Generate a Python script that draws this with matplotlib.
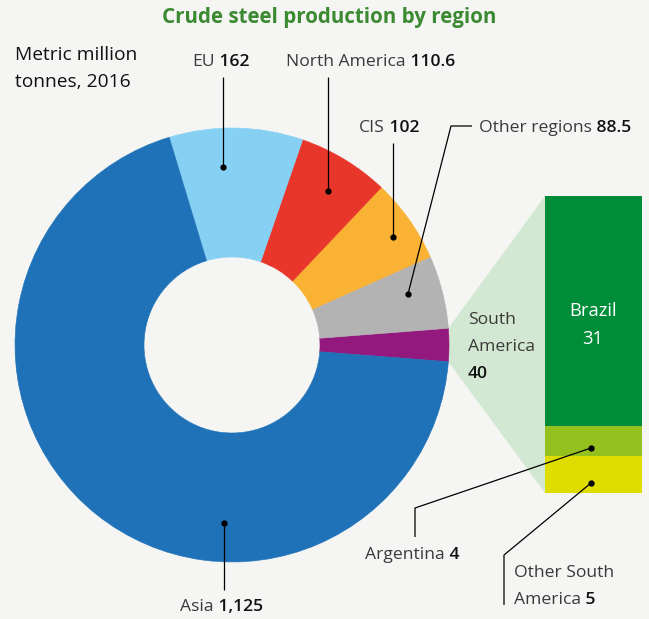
import numpy as np
import matplotlib
matplotlib.use("Agg")
import matplotlib.pyplot as plt
from matplotlib.patches import Polygon

# data (metric million tonnes, 2016)
regions = ["South America", "Other regions", "CIS", "North America", "EU", "Asia"]
production = [40, 88.5, 102, 110.6, 162, 1125]
region_colors = ["#93197f", "#b3b3b3", "#f9b233", "#e8362b", "#86d0f4", "#1f72b8"]

sa_countries = ["Other South America", "Argentina", "Brazil"]
sa_production = [5, 4, 31]
sa_colors = ["#dedc00", "#95c11f", "#008d39"]

W, H = 649, 619
BG = "#f5f5f3"
TXT = "#3a3a3a"
FONT = "Open Sans"
FS = 12.6


def Y(y):
    # image pixel row -> data y
    return H - y


fig = plt.figure(figsize=(W / 100, H / 100), dpi=100, facecolor=BG)

# stacked bar for South America (drawn under the main axes)
axb = fig.add_axes([545 / W, (H - 493) / H, 97 / W, 297 / H])
axb.set_xlim(-0.5, 0.5)
axb.set_ylim(0, sum(sa_production))
axb.axis("off")
bottoms = np.concatenate([[0], np.cumsum(sa_production)[:-1]])
axb.bar(0, sa_production, width=1, bottom=bottoms, color=sa_colors, linewidth=0)

ax = fig.add_axes([0, 0, 1, 1])
ax.patch.set_visible(False)
axb.set_zorder(0)
ax.set_zorder(1)

cx, cy, r_out, r_in = 232, Y(345), 217, 88
total = sum(production)
wedges, _ = ax.pie(production, colors=region_colors, radius=r_out, center=(cx, cy),
                   startangle=-180 * production[0] / total, counterclock=True,
                   wedgeprops=dict(width=r_out - r_in, linewidth=0.4, edgecolor="none"))
for w, c in zip(wedges, region_colors):
    w.set_edgecolor(c)
ax.set_xlim(0, W)
ax.set_ylim(0, H)
ax.set_aspect("auto")
ax.axis("off")

# connector between the South America slice and the bar
sa = wedges[0]
t1, t2 = np.radians(sa.theta1), np.radians(sa.theta2)
to_main = ax.transData.inverted()
bar_top, bar_bot = to_main.transform(axb.transData.transform([(-0.5, sum(sa_production)), (-0.5, 0)]))
poly = Polygon([(cx + r_out * np.cos(t2), cy + r_out * np.sin(t2)), bar_top, bar_bot,
                (cx + r_out * np.cos(t1), cy + r_out * np.sin(t1))],
               closed=True, facecolor="#d3e8d2", edgecolor="none", zorder=0)
ax.add_patch(poly)


def label(x, y, name, num, ha="left"):
    t = ax.text(x, Y(y), name, fontsize=FS, color=TXT, family=FONT, va="center", ha=ha)
    ax.annotate(num, xy=(1, 0), xycoords=t, fontsize=FS, color="#111111", family=FONT,
                fontweight="semibold", va="bottom", ha="left")
    return t


def leader(pts):
    xs = [p[0] for p in pts]
    ys = [Y(p[1]) for p in pts]
    ax.plot(xs, ys, color="black", lw=0.9, solid_capstyle="butt")
    ax.plot(xs[-1], ys[-1], "o", color="black", ms=3.5)


ax.text(329, Y(18), "Crude steel production by region", fontsize=14.8, fontweight="bold",
        color="#3b8a31", family=FONT, ha="center", va="center")
ax.text(15, Y(55), "Metric million", fontsize=13.8, color="#111111", family=FONT,
        fontweight="medium", ha="left", va="center")
ax.text(15, Y(82), "tonnes, 2016", fontsize=13.8, color="#111111", family=FONT,
        fontweight="medium", ha="left", va="center")

label(192, 62, "EU", " 162")
leader([(223, 77), (223, 167)])
label(286, 62, "North America", " 110.6")
leader([(328, 77), (328, 191)])
label(359, 128, "CIS", " 102")
leader([(393, 143), (393, 237)])
label(479, 128, "Other regions", " 88.5")
leader([(472, 126), (451, 126), (408, 294)])
label(180, 607, "Asia", " 1,125")
leader([(224, 590), (224, 523)])

ax.text(468, Y(320), "South", fontsize=FS, color=TXT, family=FONT, va="center")
ax.text(468, Y(347), "America", fontsize=FS, color=TXT, family=FONT, va="center")
ax.text(468, Y(374), "40", fontsize=FS, color="#111111", family=FONT, va="center",
        fontweight="semibold")

ax.text(593, Y(311), "Brazil", fontsize=13.2, color="white", family=FONT, ha="center", va="center")
ax.text(593, Y(339), "31", fontsize=13.2, color="white", family=FONT, ha="center", va="center")

label(365, 555, "Argentina", " 4")
leader([(415, 537), (415, 508), (591, 448)])
ax.text(514, Y(573), "Other South", fontsize=FS, color=TXT, family=FONT, va="center")
label(514, 600, "America", " 5")
leader([(504, 605), (504, 555), (591, 483)])

fig.savefig("out.png", dpi=100, facecolor=BG)
